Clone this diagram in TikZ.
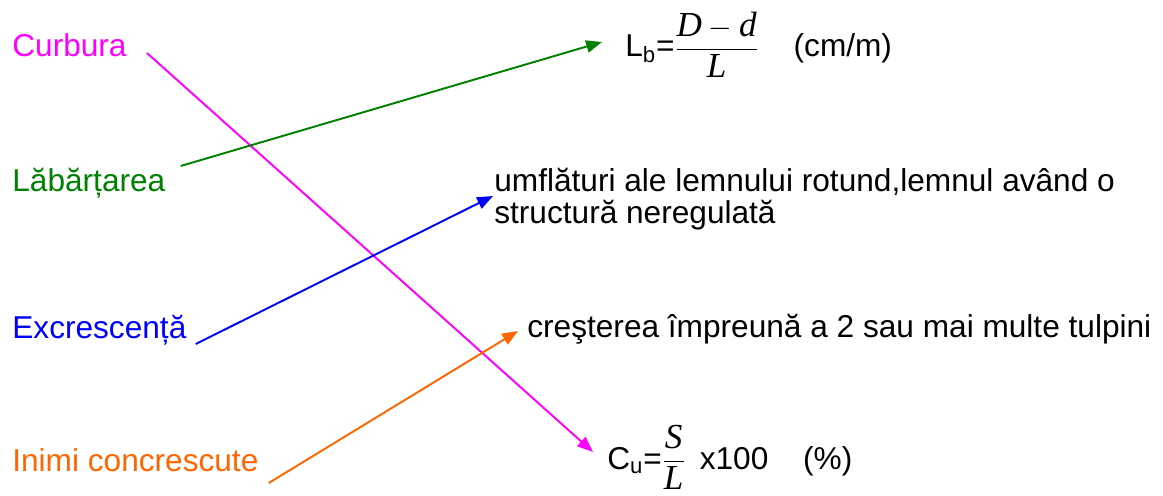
\documentclass[tikz,border=0pt]{standalone}
\usepackage{amsmath}
\usepackage{fontspec}
\setmainfont{Liberation Sans}
\newfontfamily\timesf{Liberation Serif}
\usepackage{tikz}
\usetikzlibrary{arrows.meta,positioning}

\definecolor{magentaC}{RGB}{255,0,255}
\definecolor{greenC}{RGB}{0,128,0}
\definecolor{orangeC}{RGB}{255,102,0}

\newcommand{\tvar}[1]{\text{\fontsize{20}{20}\timesf\itshape #1}}

\begin{document}
\begin{tikzpicture}[
  x=0.02cm, y=-0.02cm,
  font=\fontsize{18}{18.5}\selectfont,
  >={Triangle[length=9pt,width=7pt]},
  term/.style={anchor=base west, inner sep=0pt, text=#1},
  desc/.style={anchor=base west, inner sep=0pt, align=left},
  arrow/.style={->, line width=1.1pt, draw=#1, fill=#1}
]
\useasboundingbox (0,0) rectangle (1163,496);

% ── Left column: terms ──────────────────────────────────────────────────────
\node[term=magentaC]   (curbura) at (12,57)  {Curbura};
\node[term=greenC]     (labart)  at (12,192) {Lăbărțarea};
\node[term=blue]       (excr)    at (12,339) {Excrescență};
\node[term=orangeC]    (inimi)   at (12,471) {Inimi concrescute};

% ── Right column: definitions ──────────────────────────────────────────────
\node[desc] (lb) at (625,57)
  {L\textsubscript{b}=$\dfrac{\tvar{D}-\tvar{d}}{\tvar{L}}$\hspace{1.1em}(cm/m)};
\node[desc] (umfl) at (494,224)
  {umflături ale lemnului rotund,lemnul având o\\structură neregulată};
\node[desc] (crest) at (527,338)
  {creşterea împreună a 2 sau mai multe tulpini};
\node[desc] (cu) at (607,469)
  {C\textsubscript{u}=$\dfrac{\tvar{S}}{\tvar{L}}$\hspace{0.45em}x100\hspace{1.1em}(\%)};

% ── Arrows: term to definition ─────────────────────────────────────────────
\draw[arrow=magentaC] ([shift={(20,-4)}]curbura.base east) -- ([shift={(-14,-17)}]cu.base west);
\draw[arrow=greenC]   ([shift={(15,-26)}]labart.base east) -- ([shift={(-23,-15)}]lb.base west);
\draw[arrow=blue]     ([shift={(9,5)}]excr.base east)      -- ([shift={(-1,-28)}]umfl.base west);
\draw[arrow=orangeC]  ([shift={(10,12)}]inimi.base east)   -- ([shift={(-9,-7)}]crest.base west);

\end{tikzpicture}
\end{document}
